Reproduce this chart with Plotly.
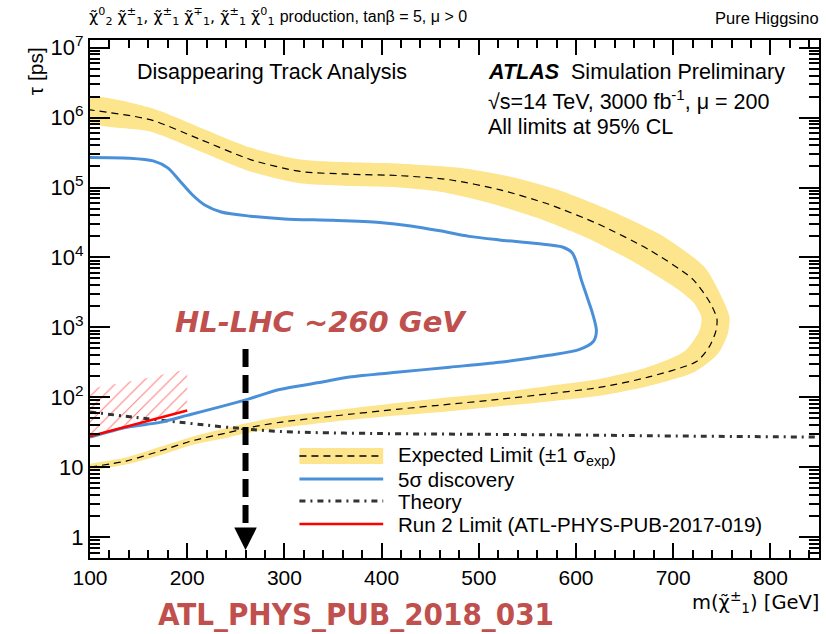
import plotly.graph_objects as go
import numpy as np

# ---------------- data ----------------
# Expected limit, central (dashed) contour: lower branch -> nose -> upper branch
exp_mass = [100, 138, 172, 206, 241, 262, 295, 350, 418, 470, 521, 572, 624, 675, 724, 737, 744, 745,
            738, 720, 675, 624, 572, 521, 470, 418, 367, 316, 265, 213, 162, 100]
exp_tau = [10.0, 12.3, 17.0, 24.0, 30.9, 36.3, 43.7, 53.7, 67.6, 79.4, 93.3, 112, 138, 195, 324, 525, 891, 1320,
           2240, 4900, 12900, 29500, 57500, 93300, 129000, 148000, 155000, 170000, 251000, 490000, 933000, 1290000]

# +/-1 sigma band: outer contour (lower-left -> nose -> upper-left)
band_out_mass = [100, 138, 172, 206, 241, 262, 295, 350, 418, 470, 521, 572, 624, 675, 722, 746, 756, 758,
                 752, 733, 690, 637, 585, 534, 480, 420, 367, 316, 265, 213, 162, 100]
band_out_tau = [8.91, 11.0, 14.8, 20.9, 26.3, 30.9, 36.3, 44.7, 55.0, 63.1, 74.1, 87.1, 105, 145, 229, 417, 794, 1380,
                2340, 7080, 19950, 45700, 89100, 141000, 191000, 219000, 229000, 251000, 372000, 724000, 1380000, 1910000]
# inner contour (lower-left -> nose -> upper-left)
band_in_mass = [100, 138, 172, 206, 241, 262, 295, 350, 418, 470, 521, 572, 624, 672, 712, 727, 729,
                721, 704, 660, 611, 559, 508, 460, 418, 367, 316, 265, 213, 162, 100]
band_in_tau = [11.2, 13.8, 19.5, 27.5, 36.3, 42.7, 52.5, 64.6, 83.2, 100, 117, 145, 182, 263, 457, 891, 1410,
               2240, 3550, 8510, 19100, 37200, 61700, 87100, 100000, 105000, 115000, 170000, 331000, 631000, 871000]

# 5 sigma discovery contour
disc_mass = [100, 138, 172, 200, 262, 295, 336, 367, 418, 470, 521, 572, 603, 618, 621, 617, 611, 605, 600, 596,
             586, 560, 521, 490, 460, 430, 398, 350, 300, 265, 235, 218, 205, 192, 180, 165, 140, 100]
disc_tau = [26.9, 37.2, 43.7, 55.0, 93.3, 129, 162, 195, 229, 269, 316, 398, 479, 631, 891, 1580, 2820, 5010, 8910, 11700,
            14100, 15800, 17800, 20000, 24000, 28200, 31600, 33900, 35500, 38900, 44700, 56200, 79400, 126000, 191000,
            240000, 263000, 269000]

# Theory lifetime
theory_mass = [100, 147, 200, 241, 295, 400, 500, 600, 700, 850]
theory_tau = [61.7, 51.3, 42.7, 37.2, 32.4, 30.2, 29.5, 28.8, 27.9, 26.9]

# Run 2 limit
run2_mass = [100, 150, 200]
run2_tau = [27.5, 42.0, 64.6]
# Run 2 excluded (hatched) region upper edge
run2_hatch_top_tau = [132, 178, 251]

# HL-LHC reach arrow
arrow_mass = 260
arrow_top_tau = 490
arrow_bottom_tau = 1.3
arrow_tip_tau = 0.65

y_ticks = [1, 10, 100, 1e3, 1e4, 1e5, 1e6, 1e7]
y_tick_text = ["1", "10", "10<sup>2</sup>", "10<sup>3</sup>", "10<sup>4</sup>", "10<sup>5</sup>", "10<sup>6</sup>", "10<sup>7</sup>"]
x_ticks = [100, 200, 300, 400, 500, 600, 700, 800]

# ---------------- styling ----------------
FONT = "Liberation Sans, Arimo, Helvetica, Arial, sans-serif"
GREEK = "DejaVu Sans, Liberation Sans, sans-serif"
YELLOW = "#fce58c"
BLUE = "#4a90d9"
RED = "#ff0000"
BROWN = "#c0504d"

fig = go.Figure()

# yellow band
fig.add_trace(go.Scatter(
    x=band_out_mass + band_in_mass[::-1],
    y=band_out_tau + band_in_tau[::-1],
    mode="lines", fill="toself", fillcolor=YELLOW,
    line=dict(width=0, shape="spline", smoothing=0.7, color=YELLOW),
    hoverinfo="skip"))

# hatched Run 2 region
fig.add_trace(go.Scatter(
    x=run2_mass + run2_mass[::-1],
    y=run2_tau + run2_hatch_top_tau[::-1],
    mode="lines", fill="toself", fillcolor="rgba(0,0,0,0)",
    fillpattern=dict(shape="/", fgcolor=RED, bgcolor="rgba(0,0,0,0)", size=9, solidity=0.12),
    line=dict(width=0, color="rgba(0,0,0,0)"),
    hoverinfo="skip"))

# theory
fig.add_trace(go.Scatter(x=theory_mass, y=theory_tau, mode="lines",
                         line=dict(color="#333333", width=3, dash="6px,5px,2px,5px", shape="spline")))
# 5 sigma
fig.add_trace(go.Scatter(x=disc_mass, y=disc_tau, mode="lines",
                         line=dict(color=BLUE, width=3, shape="spline", smoothing=0.8)))
# run2
fig.add_trace(go.Scatter(x=run2_mass, y=run2_tau, mode="lines",
                         line=dict(color=RED, width=2.5)))
# expected central
fig.add_trace(go.Scatter(x=exp_mass, y=exp_tau, mode="lines",
                         line=dict(color="black", width=1.2, dash="7px,5px", shape="spline", smoothing=0.7)))
# arrow shaft
fig.add_trace(go.Scatter(x=[arrow_mass, arrow_mass], y=[arrow_top_tau, arrow_bottom_tau], mode="lines",
                         line=dict(color="black", width=6, dash="18px,8px")))

annotations = []
# arrow head
annotations.append(dict(x=arrow_mass, y=np.log10(arrow_tip_tau), xref="x", yref="y",
                        ax=arrow_mass, ay=np.log10(arrow_bottom_tau), axref="x", ayref="y",
                        showarrow=True, arrowhead=2, arrowwidth=5, arrowsize=0.9, arrowcolor="black", text=""))

def txt(x, y, text, size, xanchor="left", yanchor="middle", color="black", family=FONT, angle=0):
    annotations.append(dict(x=x, y=y, xref="paper", yref="paper", text=text, showarrow=False,
                            xanchor=xanchor, yanchor=yanchor, textangle=angle,
                            font=dict(size=size, color=color, family=family)))

# plot area: px x 90..821, y 40..558
def px(xp):
    return (xp - 90) / 731.0

def py(yp):
    return (558 - yp) / 518.0

txt(px(87), py(17),
    "χ̃<sup>0</sup><sub>2</sub> χ̃<sup>±</sup><sub>1</sub>, χ̃<sup>±</sup><sub>1</sub> χ̃<sup>∓</sup><sub>1</sub>, "
    "χ̃<sup>±</sup><sub>1</sub> χ̃<sup>0</sup><sub>1</sub> <span style='font-family:Liberation Sans'>production, tanβ = 5, μ > 0</span>",
    16, family=GREEK)
txt(px(823), py(18), "Pure Higgsino", 16.5, xanchor="right")
txt(px(135), py(72), "Disappearing Track Analysis", 21.5)
txt(px(487), py(72), "<b><i>ATLAS</i></b>  Simulation Preliminary", 21.5)
txt(px(487), py(100), "√s=14 TeV, 3000 fb<sup>-1</sup>, μ = 200", 21.5)
txt(px(487), py(127), "All limits at 95% CL", 21.5)
txt(px(35), py(45), "τ [ps]", 21, xanchor="center", yanchor="top", angle=-90)
txt(px(823), py(602), "m(χ̃<sup>±</sup><sub>1</sub>) [GeV]", 19.5, xanchor="right", family=GREEK)
txt(px(322), py(322), "<b><i>HL-LHC ~260 GeV</i></b>", 29, xanchor="center", color=BROWN, family="DejaVu Sans, sans-serif")
txt(px(357), py(614), "<b>ATL_PHYS_PUB_2018_031</b>", 31, xanchor="center", color=BROWN,
    family="Liberation Sans Narrow, DejaVu Sans Condensed, sans-serif")

# manual legend
shapes = []
sx0, sx1 = px(300), px(384)
leg_rows = [456, 479, 501, 524]
shapes.append(dict(type="rect", xref="paper", yref="paper", x0=sx0, x1=sx1, y0=py(464), y1=py(448),
                   fillcolor=YELLOW, line=dict(width=0), layer="above"))
shapes.append(dict(type="line", xref="paper", yref="paper", x0=sx0, x1=sx1, y0=py(leg_rows[0]), y1=py(leg_rows[0]),
                   line=dict(color="black", width=1.3, dash="7px,5px")))
shapes.append(dict(type="line", xref="paper", yref="paper", x0=sx0, x1=sx1, y0=py(leg_rows[1]), y1=py(leg_rows[1]),
                   line=dict(color=BLUE, width=3)))
shapes.append(dict(type="line", xref="paper", yref="paper", x0=sx0, x1=sx1, y0=py(leg_rows[2]), y1=py(leg_rows[2]),
                   line=dict(color="#333333", width=3, dash="6px,5px,2px,5px")))
shapes.append(dict(type="line", xref="paper", yref="paper", x0=sx0, x1=sx1, y0=py(leg_rows[3]), y1=py(leg_rows[3]),
                   line=dict(color=RED, width=2.5)))
leg_text = ["Expected Limit (±1 σ<sub>exp</sub>)", "5σ discovery", "Theory", "Run 2 Limit (ATL-PHYS-PUB-2017-019)"]
for r, t in zip(leg_rows, leg_text):
    txt(px(397), py(r), t, 20.5)

# minor tick positions for log axis
y_minor = [m * 10.0 ** k for k in range(-1, 7) for m in range(2, 10)]

fig.update_layout(
    width=826, height=634, autosize=False,
    margin=dict(l=90, r=5, t=40, b=76, pad=0),
    paper_bgcolor="white", plot_bgcolor="white",
    showlegend=False,
    font=dict(family=FONT, color="black"),
    annotations=annotations, shapes=shapes,
    xaxis=dict(range=[100, 850], tickmode="array", tickvals=x_ticks,
               ticks="inside", ticklen=15, tickwidth=1.5, tickcolor="black",
               minor=dict(dtick=20, tick0=100, ticks="inside", ticklen=8, tickwidth=1.5, tickcolor="black", showgrid=False),
               showline=True, linewidth=2, linecolor="black", mirror="ticks",
               showgrid=False, zeroline=False, tickfont=dict(size=21, family=FONT)),
    yaxis=dict(type="log", range=[-0.3, 7.11], tickmode="array", tickvals=y_ticks, ticktext=y_tick_text,
               ticks="inside", ticklen=20, tickwidth=1.5, tickcolor="black",
               minor=dict(tickmode="array", tickvals=y_minor, ticks="inside", ticklen=10, tickwidth=1.5,
                          tickcolor="black", showgrid=False),
               showline=True, linewidth=2, linecolor="black", mirror="ticks",
               showgrid=False, zeroline=False, tickfont=dict(size=22, family=FONT)),
)

fig.write_html("out.html")
